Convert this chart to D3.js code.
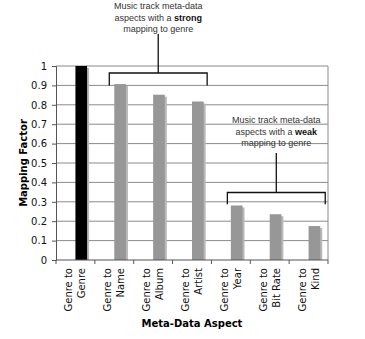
<!DOCTYPE html>
<html>
<head>
<meta charset="utf-8">
<script src="https://cdn.jsdelivr.net/npm/d3@7"></script>
<style>
    body { margin: 0; background: #fff; }
    svg { display: block; }
</style>
</head>
<body>
<svg id="chart" width="365" height="339"></svg>
<script>
// chart values
const categories = ["Genre to|Genre", "Genre to|Name", "Genre to|Album", "Genre to|Artist",
    "Genre to|Year", "Genre to|Bit Rate", "Genre to|Kind"];
const mappingFactor = [1.0, 0.907, 0.852, 0.817, 0.281, 0.236, 0.175];
const yTicks = [0, 0.1, 0.2, 0.3, 0.4, 0.5, 0.6, 0.7, 0.8, 0.9, 1];
const strongNote = ["Music track meta-data", "aspects with a |strong", "mapping to genre"];
const weakNote = ["Music track meta-data", "aspects with a |weak", "mapping to genre"];

let margin = { top: 66, right: 37, bottom: 79, left: 56 };
let width = 365 - margin.left - margin.right;
let height = 339 - margin.top - margin.bottom;

let svg = d3.select("#chart");
let g = svg.append("g").attr("transform", "translate(" + margin.left + "," + margin.top + ")");

let x = d3.scaleBand().domain(categories).range([0, width]);
let y = d3.scaleLinear().domain([0, 1]).range([height, 0]);

let bw = x.bandwidth();
let barX = d => x(d) + bw * 0.5;
let barW = bw * 0.3;

// gridlines
g.selectAll("line.grid")
    .data(yTicks.filter(t => t > 0))
    .enter()
    .append("line")
    .attr("x1", 0).attr("x2", width)
    .attr("y1", d => y(d)).attr("y2", d => y(d))
    .style("stroke", "#8a8a8a")
    .style("stroke-width", "1px");

// right border
g.append("line")
    .attr("x1", width).attr("x2", width)
    .attr("y1", 0).attr("y2", height)
    .style("stroke", "#8a8a8a");

// bars with a light shadow
let bars = g.selectAll("g.bar")
    .data(categories.map((c, i) => ({ c: c, v: mappingFactor[i], i: i })))
    .enter()
    .append("g");

bars.append("rect")
    .attr("x", d => barX(d.c) + 2)
    .attr("y", d => y(d.v) + 2)
    .attr("width", barW)
    .attr("height", d => height - y(d.v) - 2)
    .style("fill", "#b8b8b8");

bars.append("rect")
    .attr("x", d => barX(d.c))
    .attr("y", d => y(d.v))
    .attr("width", barW)
    .attr("height", d => height - y(d.v))
    .style("fill", d => d.i === 0 ? "#000" : "#979797");

// y axis
let yAxis = g.append("g")
    .call(d3.axisLeft(y).tickValues(yTicks).tickFormat(d3.format("")).tickSize(4).tickPadding(5));
yAxis.select(".domain").style("stroke", "#555");
yAxis.selectAll(".tick line").style("stroke", "#555");
yAxis.selectAll("text")
    .style("font-family", "'DejaVu Sans', Verdana, sans-serif")
    .style("font-size", "10px")
    .style("fill", "#111");

// x axis: ticks on the band edges
let xAxis = g.append("g").attr("transform", "translate(0," + height + ")");
xAxis.append("line")
    .attr("x1", 0).attr("x2", width)
    .style("stroke", "#555");
xAxis.selectAll("line.tk")
    .data(categories.map(c => x(c)).concat([width]))
    .enter()
    .append("line")
    .attr("x1", d => d).attr("x2", d => d)
    .attr("y1", 0).attr("y2", 4)
    .style("stroke", "#555");

let labels = xAxis.selectAll("text.lab")
    .data(categories)
    .enter()
    .append("text")
    .attr("transform", d => "translate(" + (x(d) + bw / 2) + ",8) rotate(-90)")
    .attr("text-anchor", "end")
    .style("font-family", "'DejaVu Sans', Verdana, sans-serif")
    .style("font-size", "10px")
    .style("fill", "#111");

labels.selectAll("tspan")
    .data(d => d.split("|"))
    .enter()
    .append("tspan")
    .attr("x", 0)
    .attr("y", (d, i) => i === 0 ? -3 : 10)
    .text(d => d);

// axis titles
svg.append("text")
    .attr("x", margin.left + width / 2)
    .attr("y", 327)
    .attr("text-anchor", "middle")
    .style("font-family", "'DejaVu Sans', Verdana, sans-serif")
    .style("font-size", "10px")
    .style("font-weight", "bold")
    .text("Meta-Data Aspect");

svg.append("text")
    .attr("transform", "translate(27," + (margin.top + height / 2) + ") rotate(-90)")
    .attr("text-anchor", "middle")
    .style("font-family", "'DejaVu Sans', Verdana, sans-serif")
    .style("font-size", "10px")
    .style("font-weight", "bold")
    .text("Mapping Factor");

// bracket annotations
function bracket(config) {
    let x0 = barX(categories[config.from]) + config.padLeft;
    let x1 = barX(categories[config.to]) + barW + config.padRight;
    let yTop = y(config.top);
    let yEnd = y(config.end);
    let xm = (x0 + x1) / 2;

    g.append("path")
        .attr("d", "M" + x0 + "," + yEnd + "V" + yTop + "H" + x1 + "V" + yEnd +
            "M" + xm + "," + yTop + "V" + config.stemTop)
        .style("fill", "none")
        .style("stroke", "#111")
        .style("stroke-width", "1.3px");

    let txt = g.append("text")
        .attr("text-anchor", "middle")
        .style("font-family", "'Liberation Sans', Arial, sans-serif")
        .style("font-size", "9px")
        .style("fill", "#333");

    config.lines.forEach((line, i) => {
        let parts = line.split("|");
        let t = txt.append("tspan")
            .attr("x", xm)
            .attr("y", config.textTop + i * 11.5)
            .text(parts[0]);
        if (parts[1]) {
            txt.append("tspan").style("font-weight", "bold").style("fill", "#111").text(parts[1]);
        }
    });
}

bracket({ from: 1, to: 3, top: 0.964, end: 0.9, padLeft: -5, padRight: 3.5,
    stemTop: 34 - margin.top, textTop: 9 - margin.top, lines: strongNote });
bracket({ from: 4, to: 6, top: 0.348, end: 0.288, padLeft: -3.5, padRight: 5,
    stemTop: 153 - margin.top, textTop: 123 - margin.top, lines: weakNote });
</script>
</body>
</html>
